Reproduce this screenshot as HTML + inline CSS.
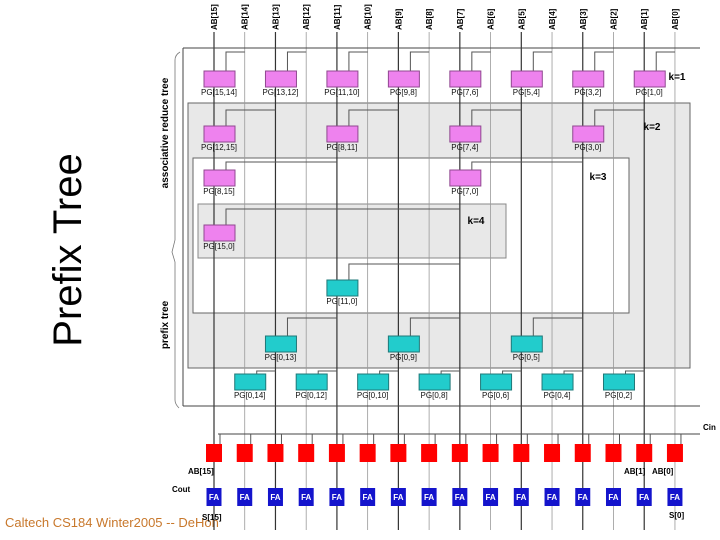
<!DOCTYPE html>
<html><head><meta charset="utf-8"><style>
html,body{margin:0;padding:0;background:#fff;width:720px;height:540px;overflow:hidden}
svg{display:block}
text{font-family:"Liberation Sans",sans-serif}
</style></head><body>
<svg id="s" width="720" height="540" viewBox="0 0 720 540">
<text x="81" y="250" font-size="40" transform="rotate(-90 81 250)" text-anchor="middle" fill="#000">Prefix Tree</text>
<text x="5" y="527" font-size="13" fill="#c8782c">Caltech CS184 Winter2005 -- DeHon</text>
<rect x="188" y="103" width="502" height="265" fill="#e8e8e8" stroke="#666" stroke-width="1"/>
<rect x="193" y="158" width="436" height="155" fill="#fff" stroke="#666" stroke-width="1"/>
<rect x="198" y="204" width="308" height="54" fill="#e8e8e8" stroke="#888" stroke-width="1"/>
<g id="g"></g>
</svg>
<script>
const bits=[15,14,13,12,11,10,9,8,7,6,5,4,3,2,1,0];
const reduceNodes=[["PG[15,14]",15,1],["PG[13,12]",13,1],["PG[11,10]",11,1],["PG[9,8]",9,1],["PG[7,6]",7,1],["PG[5,4]",5,1],["PG[3,2]",3,1],["PG[1,0]",1,1],
["PG[12,15]",15,2],["PG[8,11]",11,2],["PG[7,4]",7,2],["PG[3,0]",3,2],["PG[8,15]",15,3],["PG[7,0]",7,3],["PG[15,0]",15,4]];
const reduceSrc=[14,12,10,8,6,4,2,0,13,9,5,1,11,3,7];
const prefixNodes=[["PG[11,0]",11,0],["PG[0,13]",13,1],["PG[0,9]",9,1],["PG[0,5]",5,1],["PG[0,14]",14,2],["PG[0,12]",12,2],["PG[0,10]",10,2],["PG[0,8]",8,2],["PG[0,6]",6,2],["PG[0,4]",4,2],["PG[0,2]",2,2]];
const prefixSrc=[7,11,7,3,13,11,9,7,5,3,1];
const levelLabels=["k=1","k=2","k=3","k=4"];
const NS="http://www.w3.org/2000/svg",G=document.getElementById('g');
function col(b){return 214+(15-b)*30.73;}
function el(t,a,p){const e=document.createElementNS(NS,t);for(const k in a)e.setAttribute(k,a[k]);(p||G).appendChild(e);return e;}
const boxY=[71,126,170,225],stubY=[52,110,162,209];
const pBoxY=[280,336,374],pStubY=[264,318,371];
bits.forEach(b=>{const x=col(b);
 const l=el('line',{x1:x,y1:32,x2:x,y2:530,stroke:b%2?'#333':'#999','stroke-width':b%2?1.2:0.8});
 
 
 const t=el('text',{x:0,y:0,'font-size':8,'font-weight':'bold',transform:`translate(${x+3} 30) rotate(-90)`});
 t.textContent='AB['+b+']';
 
 
});
el('line',{x1:183,y1:48,x2:700,y2:48,stroke:'#444','stroke-width':1});
el('line',{x1:183,y1:48,x2:183,y2:406,stroke:'#444','stroke-width':1});
el('line',{x1:183,y1:406,x2:700,y2:406,stroke:'#444','stroke-width':1});
el('line',{x1:218,y1:434,x2:700,y2:434,stroke:'#444','stroke-width':1});
function node(n,src,y,sy,fill,stroke){
 const x=col(n[1]);
 el('polyline',{points:`${x+12},${y} ${x+12},${sy} ${col(src)},${sy}`,fill:'none',stroke:'#555','stroke-width':1});
 const r=el('rect',{x:x-10,y:y,width:31,height:16,fill:fill,stroke:stroke,'stroke-width':1});
 
 
 const t=el('text',{x:x+5,y:y+24,'font-size':8,'text-anchor':'middle',fill:'#111'});
 t.textContent=n[0];
 
 
}
reduceNodes.forEach((n,i)=>node(n,reduceSrc[i],boxY[n[2]-1],stubY[n[2]-1],'#ee82ee','#904890'));
prefixNodes.forEach((n,i)=>node(n,prefixSrc[i],pBoxY[n[2]],pStubY[n[2]],'#22cccc','#207878'));
const lp=[[677,80],[652,130],[598,180],[476,224]];
levelLabels.forEach((s,i)=>{const t=el('text',{x:lp[i][0],y:lp[i][1],'font-size':10,'font-weight':'bold','text-anchor':'middle'});t.textContent=s;
 
 });
bits.forEach(b=>{const x=col(b);
 el('line',{x1:x+6,y1:434,x2:x+6,y2:444,stroke:'#555','stroke-width':1});
 const r=el('rect',{x:x-8,y:444,width:16,height:18,fill:'#ff0000'});
 
 
 const f=el('rect',{x:x-7.5,y:488,width:15,height:18,fill:'#1414cc'});
 
 
 const t=el('text',{x:x,y:500,'font-size':8,'font-weight':'bold','text-anchor':'middle',fill:'#fff'});t.textContent='FA';
 
 
});
[['Cin',703,430],['AB[15]',188,474],['AB[1]',624,474],['AB[0]',652,474],['Cout',172,492],['S[15]',202,520],['S[0]',669,518]].forEach(a=>{
 const t=el('text',{x:a[1],y:a[2],'font-size':8,'font-weight':'bold'});t.textContent=a[0];
 
 });
const t1=el('text',{x:0,y:0,'font-size':10,'font-weight':'bold','text-anchor':'middle',transform:'translate(168 133) rotate(-90)'});t1.textContent='associative reduce tree';


const t2=el('text',{x:0,y:0,'font-size':10,'font-weight':'bold','text-anchor':'middle',transform:'translate(168 325) rotate(-90)'});t2.textContent='prefix tree';


el('path',{d:'M180 52 Q175 55 175 60 L175 240 L172 252 L175 262 L175 400 Q175 404 179 408',fill:'none',stroke:'#777','stroke-width':0.8});
</script>
</body></html>
